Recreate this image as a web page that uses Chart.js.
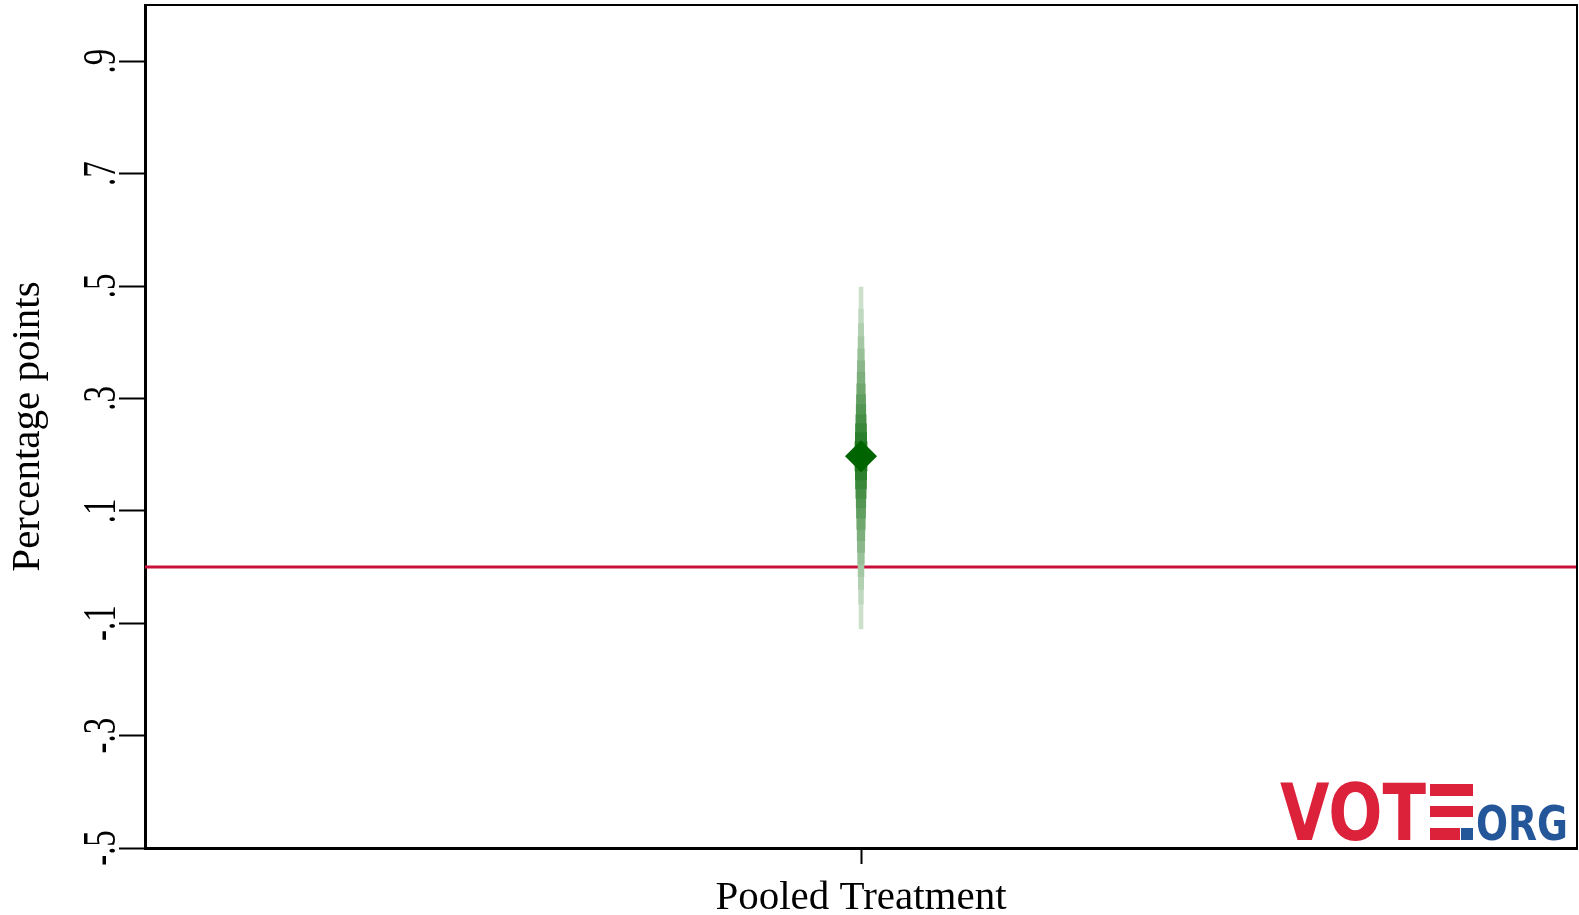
<!DOCTYPE html>
<html>
<head>
<meta charset="utf-8">
<title>Pooled Treatment</title>
<script src="https://cdn.jsdelivr.net/npm/chart.js@4"></script>
<style>
  body { margin: 0; background: #fff; }
</style>
</head>
<body>
<canvas id="grafica" width="1579" height="915"></canvas>
<script>
// Datos
const categorias = ['Pooled Treatment'];
const estimacion = [0.197];
// intervalos de confianza, del mas ancho (exterior) al mas estrecho (interior)
const ciInferior = [-0.110, -0.066, -0.040, -0.017, 0.005, 0.026, 0.047, 0.067, 0.087, 0.105, 0.122, 0.139, 0.155, 0.171];
const ciSuperior = [0.498, 0.459, 0.433, 0.410, 0.388, 0.367, 0.347, 0.326, 0.307, 0.289, 0.271, 0.255, 0.239, 0.223];
const yTicks = [-0.5, -0.3, -0.1, 0.1, 0.3, 0.5, 0.7, 0.9];
const yTickLabels = ['-.5', '-.3', '-.1', '.1', '.3', '.5', '.7', '.9'];

const serif = '"Liberation Serif", "Times New Roman", serif';

// verde mezclado con blanco segun la opacidad
function verde(a) {
  const r = Math.round(255 - a * 255);
  const g = Math.round(255 - a * 155);
  const b = Math.round(255 - a * 255);
  return `rgb(${r},${g},${b})`;
}

const n = ciInferior.length;
const capas = [];
for (let i = n - 1; i >= 0; i--) {
  const t = i / (n - 1);
  capas.push({
    type: 'bar',
    data: [[ciInferior[i], ciSuperior[i]]],
    backgroundColor: verde(0.2 + 0.68 * t),
    barThickness: 4 + 8 * t,
    grouped: false,
    borderWidth: 0
  });
}

// linea roja en cero, debajo de los intervalos
const lineaCero = {
  id: 'lineaCero',
  beforeDatasetsDraw(chart) {
    const { ctx, chartArea, scales } = chart;
    const y = scales.y.getPixelForValue(0);
    ctx.save();
    ctx.strokeStyle = '#c8103a';
    ctx.lineWidth = 3;
    ctx.beginPath();
    ctx.moveTo(chartArea.left, y);
    ctx.lineTo(chartArea.right, y);
    ctx.stroke();
    ctx.restore();
  }
};

// etiquetas del eje y giradas (estrechas), marco y logo
const extras = {
  id: 'extras',
  afterDraw(chart) {
    const { ctx, chartArea, scales } = chart;
    ctx.save();
    ctx.fillStyle = '#000';
    ctx.font = '47px ' + serif;
    ctx.textAlign = 'center';
    ctx.textBaseline = 'alphabetic';
    yTicks.forEach((v, i) => {
      const y = scales.y.getPixelForValue(v);
      ctx.save();
      ctx.translate(115, y);
      ctx.rotate(-Math.PI / 2);
      ctx.scale(0.7, 1);
      ctx.fillText(yTickLabels[i], 0, 0);
      ctx.restore();
    });

    // marco superior y derecho
    ctx.strokeStyle = '#000';
    ctx.lineWidth = 2;
    ctx.beginPath();
    ctx.moveTo(chartArea.left, chartArea.top);
    ctx.lineTo(chartArea.right, chartArea.top);
    ctx.lineTo(chartArea.right, chartArea.bottom);
    ctx.stroke();

    // logo VOTE.ORG
    const rojo = '#dc213b';
    const azul = '#24569a';
    ctx.textAlign = 'left';
    ctx.font = 'bold 78px "DejaVu Sans"';
    ctx.fillStyle = rojo;
    let w = ctx.measureText('VOT').width;
    ctx.save();
    ctx.translate(1280, 840);
    ctx.scale(146 / w, 1);
    ctx.fillText('VOT', 0, 0);
    ctx.restore();
    ctx.fillRect(1430, 784, 43, 12);
    ctx.fillRect(1430, 806, 43, 11);
    ctx.fillRect(1430, 828, 30, 12);
    ctx.fillStyle = azul;
    ctx.fillRect(1461, 828, 12, 12);
    ctx.font = 'bold 48px "DejaVu Sans"';
    w = ctx.measureText('ORG').width;
    ctx.save();
    ctx.translate(1476, 840);
    ctx.scale(92 / w, 1);
    ctx.fillText('ORG', 0, 0);
    ctx.restore();
    ctx.restore();
  }
};

const datasets = [{
  type: 'line',
  data: estimacion,
  showLine: false,
  pointStyle: 'rectRot',
  pointRadius: 16,
  pointHoverRadius: 16,
  pointBackgroundColor: '#006400',
  pointBorderWidth: 0
}].concat(capas);

new Chart(document.getElementById('grafica'), {
  type: 'bar',
  data: { labels: categorias, datasets: datasets },
  options: {
    responsive: false,
    devicePixelRatio: 1,
    animation: false,
    layout: {
      autoPadding: false,
      padding: { top: 5, right: 2, left: 0, bottom: 0 }
    },
    plugins: {
      legend: { display: false },
      tooltip: { enabled: false }
    },
    scales: {
      x: {
        offset: true,
        grid: {
          offset: false,
          drawOnChartArea: false,
          tickLength: 16,
          tickWidth: 2,
          tickColor: '#000'
        },
        border: { display: true, color: '#000', width: 3 },
        ticks: {
          color: '#000',
          padding: 10,
          font: { family: serif, size: 41 }
        },
        afterFit(scale) {
          scale.height = 67;
          scale.paddingLeft = 0;
          scale.paddingRight = 0;
        }
      },
      y: {
        min: -0.5,
        max: 1.0,
        afterBuildTicks(scale) {
          scale.ticks = yTicks.map(v => ({ value: v }));
        },
        grid: {
          drawOnChartArea: false,
          tickLength: 26,
          tickWidth: 2,
          tickColor: '#000'
        },
        border: { display: true, color: '#000', width: 3 },
        ticks: {
          color: 'rgba(0,0,0,0)',
          font: { family: serif, size: 36 }
        },
        title: {
          display: true,
          text: 'Percentage points',
          color: '#000',
          padding: { top: 4, bottom: 0 },
          font: { family: serif, size: 41 }
        },
        afterFit(scale) {
          scale.width = 145;
          scale.paddingTop = 0;
          scale.paddingBottom = 0;
        }
      }
    }
  },
  plugins: [lineaCero, extras]
});
</script>
</body>
</html>
